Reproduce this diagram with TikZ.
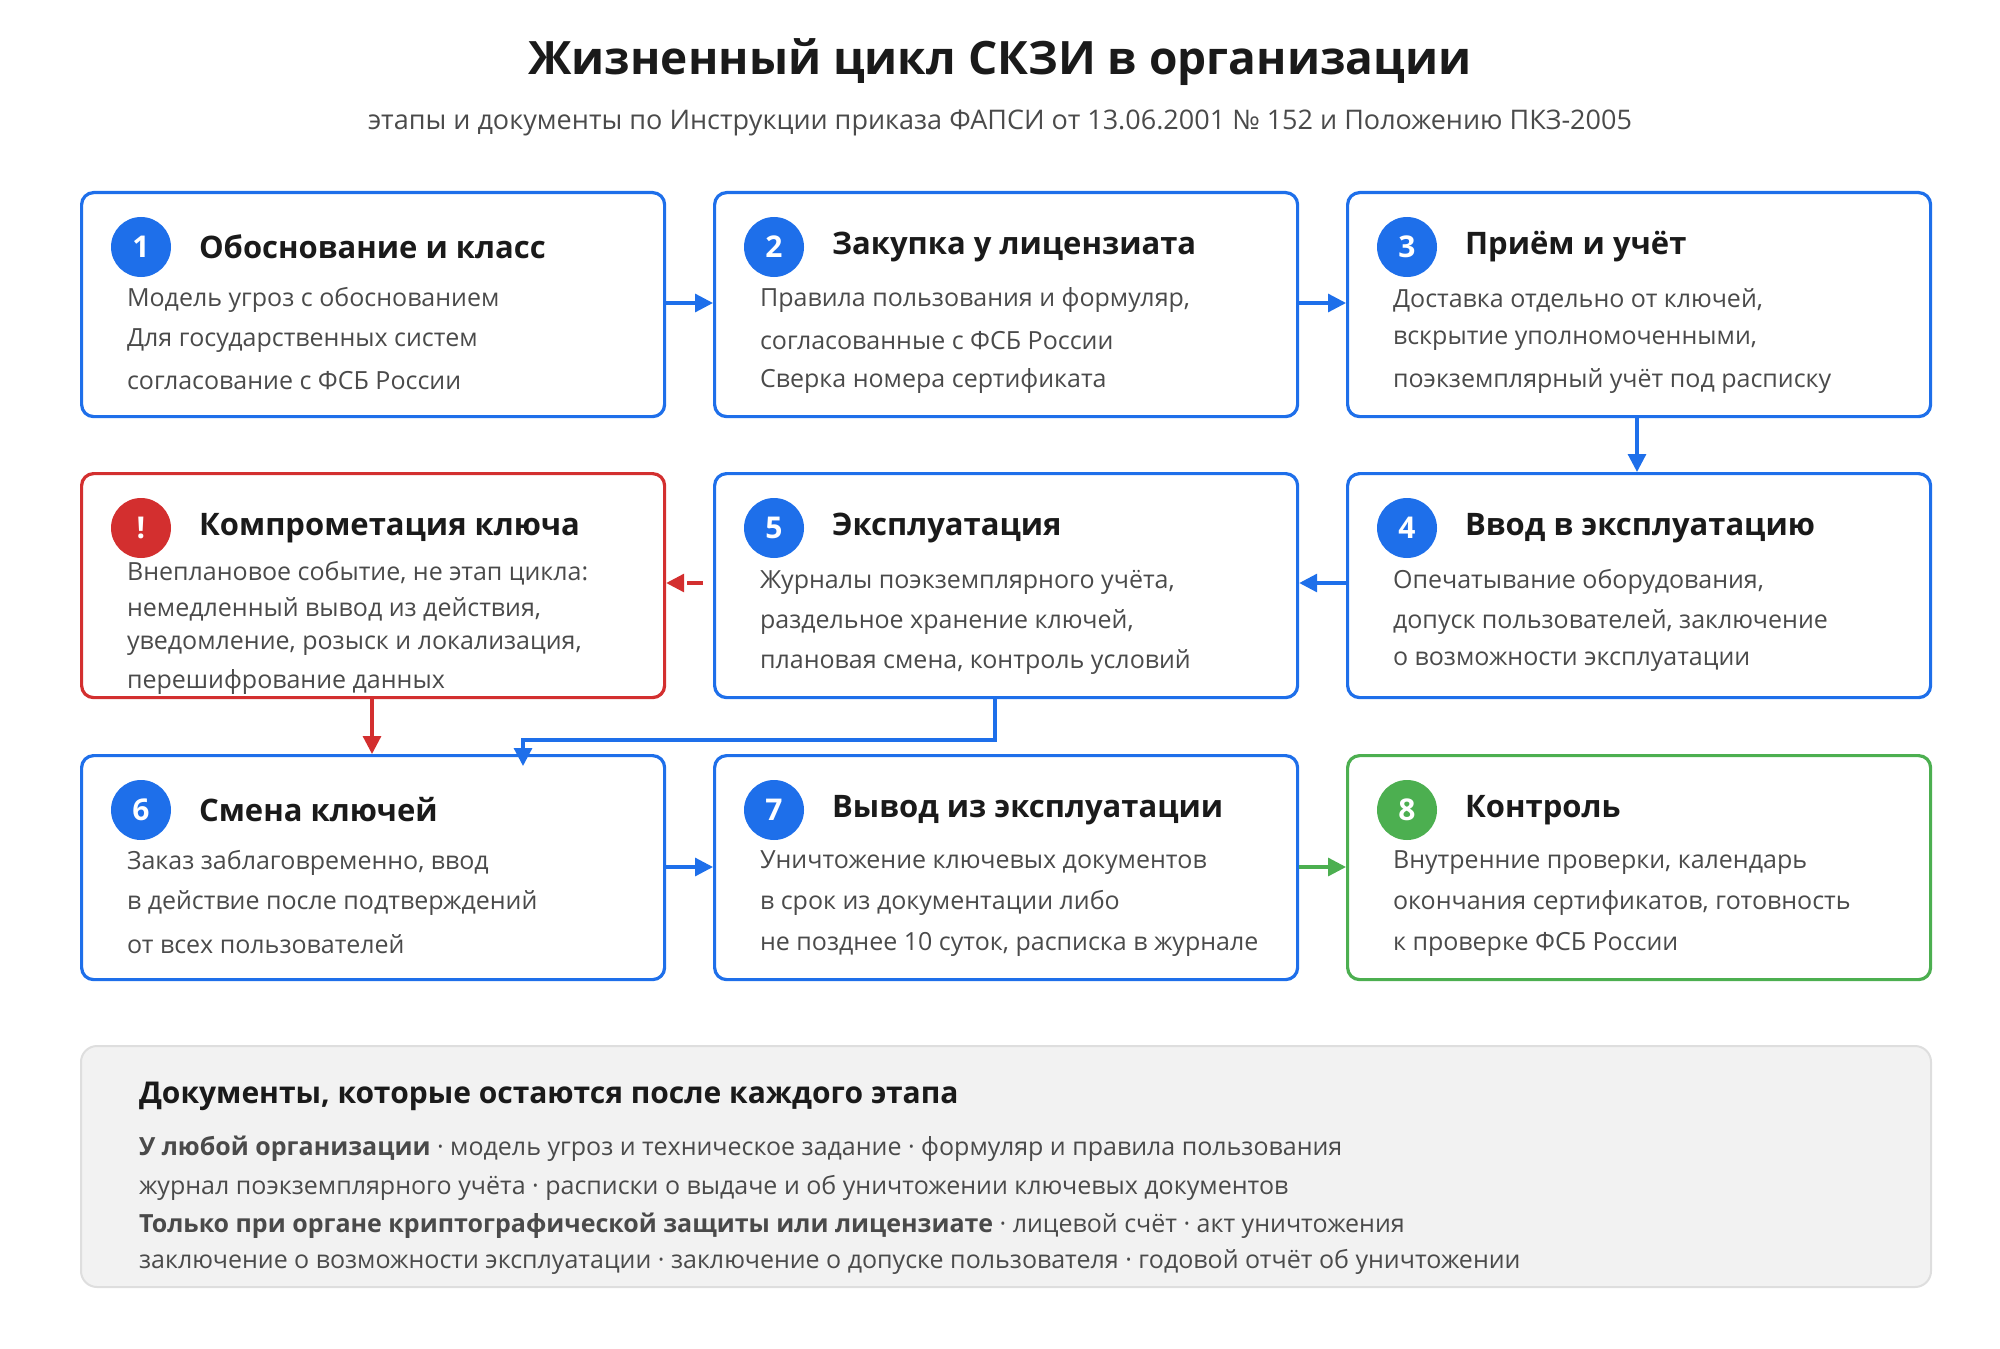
\documentclass[tikz,border=0pt]{standalone}
\usepackage{fontspec}
\setmainfont{Open Sans}
\usetikzlibrary{arrows.meta}
\definecolor{bl}{HTML}{1E6FEA}
\definecolor{rd}{HTML}{D32F2F}
\definecolor{gn}{HTML}{4CAF50}
\definecolor{tx}{HTML}{1A1A1A}
\definecolor{bd}{HTML}{4A4A4A}
\begin{document}
\begin{tikzpicture}[x=0.5pt,y=-0.5pt,
 box/.style={draw=#1,line width=1.6pt,rounded corners=6pt,minimum width=291.5pt,minimum height=112pt,anchor=north west,inner sep=0pt},
 num/.style={circle,fill=#1,minimum size=30pt,inner sep=0pt,text=white,font=\bfseries\fontsize{15}{15}\selectfont},
 hd/.style={anchor=west,text=tx,font=\bfseries\fontsize{15.5}{18}\selectfont},
 bt/.style={anchor=west,text=bd,font=\fontsize{12.5}{15}\selectfont},
 ar/.style={draw=#1,line width=1.6pt,-{Triangle[length=9pt,width=9pt]}}]
\useasboundingbox (0,0) rectangle (2000,1348);
\node[text=tx,font=\bfseries\fontsize{23}{26}\selectfont] (title) at (1000,62) {Жизненный цикл СКЗИ в организации};
\node[text=bd,font=\fontsize{13.5}{16}\selectfont] (sub) at (1000,123) {этапы и документы по Инструкции приказа ФАПСИ от 13.06.2001 № 152 и Положению ПКЗ-2005};
% boxes
\node[box=bl] (b1) at (80,191) {};
\node[box=bl] (b2) at (713,191) {};
\node[box=bl] (b3) at (1346,191) {};
\node[box=rd] (bx) at (80,472) {};
\node[box=bl] (b5) at (713,472) {};
\node[box=bl] (b4) at (1346,472) {};
\node[box=bl] (b6) at (80,754) {};
\node[box=bl] (b7) at (713,754) {};
\node[box=gn] (b8) at (1346,754) {};
% contents
\foreach \n/\x/\y/\c/\h in {1/141/247/bl/Обоснование и класс,2/774/247/bl/Закупка у лицензиата,3/1407/247/bl/Приём и учёт,!/141/528/rd/Компрометация ключа,5/774/528/bl/Эксплуатация,4/1407/528/bl/Ввод в эксплуатацию,6/141/810/bl/Смена ключей,7/774/810/bl/Вывод из эксплуатации,8/1407/810/gn/Контроль}{
 \node[num=\c] (n\n) at (\x,\y) {\n};
 \node[hd] (h\n) at (\x+51,\y) {\h};
}
\node[bt] (t1a) at (120,300) {Модель угроз с обоснованием};
\node[bt] (t1b) at (120,341) {Для государственных систем};
\node[bt] (t1c) at (120,381) {согласование с ФСБ России};
\node[bt] (t2a) at (753,300) {Правила пользования и формуляр,};
\node[bt] (t2b) at (753,341) {согласованные с ФСБ России};
\node[bt] (t2c) at (753,381) {Сверка номера сертификата};
\node[bt] (t3a) at (1386,300) {Доставка отдельно от ключей,};
\node[bt] (t3b) at (1386,341) {вскрытие уполномоченными,};
\node[bt] (t3c) at (1386,381) {поэкземплярный учёт под расписку};
\node[bt] (txa) at (120,573) {Внеплановое событие, не этап цикла:};
\node[bt] (txb) at (120,609) {немедленный вывод из действия,};
\node[bt] (txc) at (120,646) {уведомление, розыск и локализация,};
\node[bt] (txd) at (120,682) {перешифрование данных};
\node[bt] (t5a) at (753,582) {Журналы поэкземплярного учёта,};
\node[bt] (t5b) at (753,622) {раздельное хранение ключей,};
\node[bt] (t5c) at (753,662) {плановая смена, контроль условий};
\node[bt] (t4a) at (1386,582) {Опечатывание оборудования,};
\node[bt] (t4b) at (1386,622) {допуск пользователей, заключение};
\node[bt] (t4c) at (1386,662) {о возможности эксплуатации};
\node[bt] (t6a) at (120,863) {Заказ заблаговременно, ввод};
\node[bt] (t6b) at (120,903) {в действие после подтверждений};
\node[bt] (t6c) at (120,944) {от всех пользователей};
\node[bt] (t7a) at (753,863) {Уничтожение ключевых документов};
\node[bt] (t7b) at (753,903) {в срок из документации либо};
\node[bt] (t7c) at (753,944) {не позднее 10 суток, расписка в журнале};
\node[bt] (t8a) at (1386,863) {Внутренние проверки, календарь};
\node[bt] (t8b) at (1386,903) {окончания сертификатов, готовность};
\node[bt] (t8c) at (1386,944) {к проверке ФСБ России};
% arrows
\draw[ar=bl] (b1.east|-0,303) -- (b2.west|-0,303);
\draw[ar=bl] (b2.east|-0,303) -- (b3.west|-0,303);
\draw[ar=bl] (1637,415) -- (1637,472);
\draw[ar=bl] (b4.west|-0,583) ++(2,0) -- (b5.east|-0,583);
\draw[ar=rd,dashed,dash pattern=on 8pt off 8pt] (b5.west|-0,583) ++(-10,0) -- (bx.east|-0,583);
\draw[ar=rd] (372,697) -- (372,754);
\draw[ar=bl] (995,697) -- (995,740) -- (523,740) -- (523,766);
\draw[ar=bl] (b6.east|-0,867) -- (b7.west|-0,867);
\draw[ar=gn] (b7.east|-0,867) -- (b8.west|-0,867);
% panel
\node[draw=black!13,fill=black!5,line width=1pt,rounded corners=8pt,anchor=north west,minimum width=925pt,minimum height=120.5pt,inner sep=0pt] (panel) at (80,1045) {};
\node[anchor=west,text=tx,font=\bfseries\fontsize{15}{18}\selectfont] (ph) at (132,1096) {Документы, которые остаются после каждого этапа};
\node[bt] (p1) at (132,1149) {\textbf{У любой организации} · модель угроз и техническое задание · формуляр и правила пользования};
\node[bt] (p2) at (132,1188) {журнал поэкземплярного учёта · расписки о выдаче и об уничтожении ключевых документов};
\node[bt] (p3) at (132,1226) {\textbf{Только при органе криптографической защиты или лицензиате} · лицевой счёт · акт уничтожения};
\node[bt] (p4) at (132,1262) {заключение о возможности эксплуатации · заключение о допуске пользователя · годовой отчёт об уничтожении};
\end{tikzpicture}
\end{document}
